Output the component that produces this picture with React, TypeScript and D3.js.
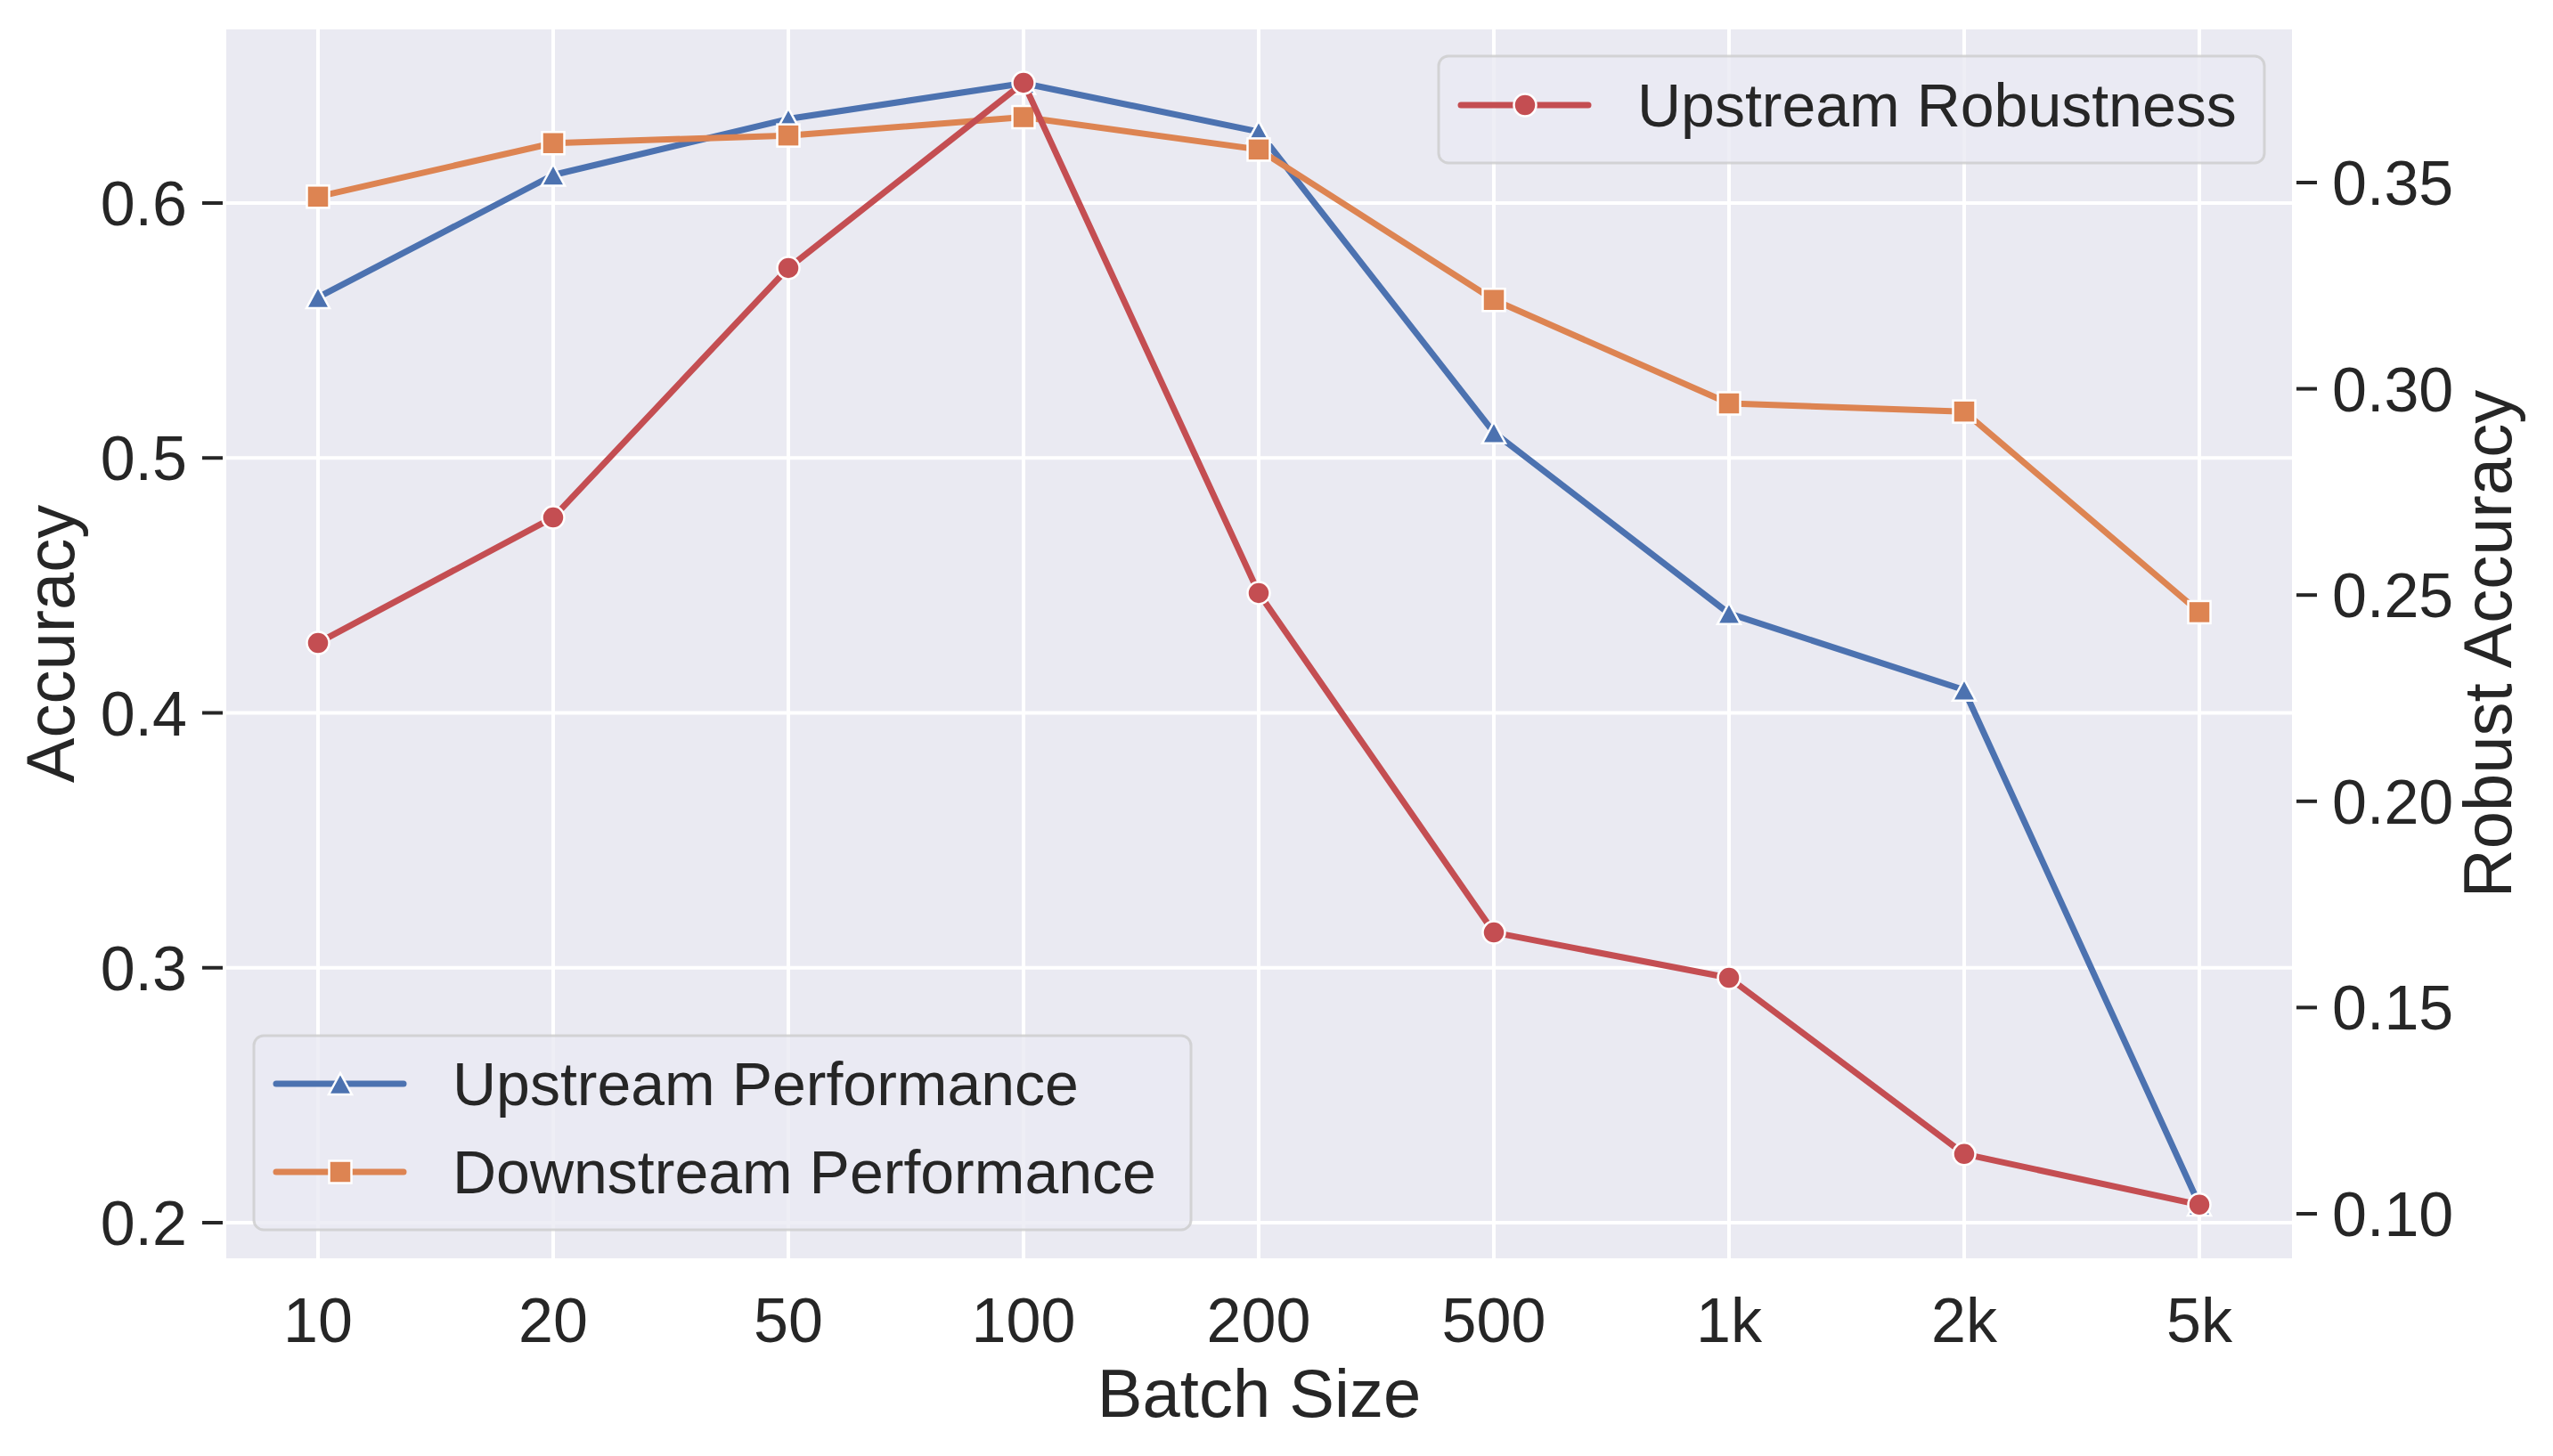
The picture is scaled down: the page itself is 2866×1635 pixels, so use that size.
import React from "react";
import * as d3 from "d3";

const categories = ["10", "20", "50", "100", "200", "500", "1k", "2k", "5k"];
const upstreamPerformance = [0.563, 0.611, 0.633, 0.647, 0.628, 0.510, 0.439, 0.409, 0.207];
const downstreamPerformance = [0.6025, 0.6235, 0.6265, 0.6337, 0.621, 0.562, 0.5214, 0.5182, 0.4395];
const upstreamRobustness = [0.2384, 0.2688, 0.3293, 0.3742, 0.2505, 0.1682, 0.1572, 0.1145, 0.1022];
const leftTicks = [0.2, 0.3, 0.4, 0.5, 0.6];
const rightTicks = [0.1, 0.15, 0.2, 0.25, 0.3, 0.35];

const W = 2866;
const H = 1635;
const PL = 254;
const PR = 2573;
const PT = 33;
const PB = 1413;
const FONT = "'Liberation Sans', Arial, Helvetica, sans-serif";
const TEXT = "#262626";
const BLUE = "#4C72B0";
const ORANGE = "#DD8452";
const RED = "#C44E52";
const BG = "#EAEAF2";

const x = d3.scalePoint<string>().domain(categories).range([357, 2469]);
const yL = d3.scaleLinear().domain([0.2, 0.6]).range([1373, 228]);
const yR = d3.scaleLinear().domain([0.1, 0.35]).range([1363, 205]);

type MarkerKind = "tri" | "sq" | "circ";

function Marker({ kind, cx, cy, color }: { kind: MarkerKind; cx: number; cy: number; color: string }) {
  if (kind === "circ") {
    return <circle cx={cx} cy={cy} r={12.5} fill={color} stroke="#fff" strokeWidth={2.5} />;
  }
  if (kind === "sq") {
    const s = 25;
    return <rect x={cx - s / 2} y={cy - s / 2} width={s} height={s} fill={color} stroke="#fff" strokeWidth={2.5} />;
  }
  const w = 26;
  const h = 24;
  const p = d3.path();
  p.moveTo(cx, cy - h / 2);
  p.lineTo(cx + w / 2, cy + h / 2);
  p.lineTo(cx - w / 2, cy + h / 2);
  p.closePath();
  return <path d={p.toString()} fill={color} stroke="#fff" strokeWidth={2.5} strokeLinejoin="miter" />;
}

function Series({ values, y, color, kind }: { values: number[]; y: d3.ScaleLinear<number, number>; color: string; kind: MarkerKind }) {
  const line = d3
    .line<number>()
    .x((_, i) => x(categories[i]) as number)
    .y((d) => y(d));
  return (
    <g>
      <path d={line(values) || ""} fill="none" stroke={color} strokeWidth={7} strokeLinejoin="round" strokeLinecap="round" />
      {values.map((v, i) => (
        <Marker key={i} kind={kind} cx={x(categories[i]) as number} cy={y(v)} color={color} />
      ))}
    </g>
  );
}

function Legend({
  left,
  top,
  width,
  height,
  entries,
}: {
  left: number;
  top: number;
  width: number;
  height: number;
  entries: { label: string; color: string; kind: MarkerKind; cy: number }[];
}) {
  return (
    <g>
      <rect x={left} y={top} width={width} height={height} rx={11} ry={11} fill={BG} fillOpacity={0.8} stroke="#cccccc" strokeOpacity={0.8} strokeWidth={3} />
      {entries.map((e, i) => (
        <g key={i}>
          <line x1={left + 25} x2={left + 168} y1={e.cy} y2={e.cy} stroke={e.color} strokeWidth={7} strokeLinecap="round" />
          <Marker kind={e.kind} cx={left + 97} cy={e.cy} color={e.color} />
          <text x={left + 223} y={e.cy + 24} fontSize={68} fill={TEXT} fontFamily={FONT}>
            {e.label}
          </text>
        </g>
      ))}
    </g>
  );
}

export default function App() {
  const midY = (PT + PB) / 2;
  const midX = (PL + PR) / 2;
  return (
    <svg width={W} height={H} viewBox={`0 0 ${W} ${H}`} style={{ position: "absolute", left: 0, top: 0, background: "#fff" }}>
      <rect x={0} y={0} width={W} height={H} fill="#fff" />
      <rect x={PL} y={PT} width={PR - PL} height={PB - PT} fill={BG} />
      {categories.map((c) => (
        <line key={"gx" + c} x1={x(c)} x2={x(c)} y1={PT} y2={PB} stroke="#fff" strokeWidth={4} />
      ))}
      {leftTicks.map((t) => (
        <line key={"gy" + t} x1={PL} x2={PR} y1={yL(t)} y2={yL(t)} stroke="#fff" strokeWidth={4} />
      ))}

      <Series values={upstreamPerformance} y={yL} color={BLUE} kind="tri" />
      <Series values={downstreamPerformance} y={yL} color={ORANGE} kind="sq" />

      <Legend
        left={285}
        top={1163}
        width={1052}
        height={218}
        entries={[
          { label: "Upstream Performance", color: BLUE, kind: "tri", cy: 1217 },
          { label: "Downstream Performance", color: ORANGE, kind: "sq", cy: 1316 },
        ]}
      />

      <Series values={upstreamRobustness} y={yR} color={RED} kind="circ" />

      <Legend
        left={1615}
        top={63}
        width={927}
        height={120}
        entries={[{ label: "Upstream Robustness", color: RED, kind: "circ", cy: 118 }]}
      />

      {leftTicks.map((t) => (
        <g key={"lt" + t}>
          <line x1={227} x2={250} y1={yL(t)} y2={yL(t)} stroke={TEXT} strokeWidth={4} />
          <text x={210} y={yL(t) + 25} textAnchor="end" fontSize={70} fill={TEXT} fontFamily={FONT}>
            {d3.format(".1f")(t)}
          </text>
        </g>
      ))}
      {rightTicks.map((t) => (
        <g key={"rt" + t}>
          <line x1={2578} x2={2601} y1={yR(t)} y2={yR(t)} stroke={TEXT} strokeWidth={4} />
          <text x={2618} y={yR(t) + 25} textAnchor="start" fontSize={70} fill={TEXT} fontFamily={FONT}>
            {d3.format(".2f")(t)}
          </text>
        </g>
      ))}
      {categories.map((c) => (
        <text key={"xt" + c} x={x(c)} y={1507} textAnchor="middle" fontSize={70} fill={TEXT} fontFamily={FONT}>
          {c}
        </text>
      ))}
      <text x={midX} y={1591} textAnchor="middle" fontSize={76} fill={TEXT} fontFamily={FONT}>
        Batch Size
      </text>
      <text transform={`translate(83,${midY}) rotate(-90)`} textAnchor="middle" fontSize={76} fill={TEXT} fontFamily={FONT}>
        Accuracy
      </text>
      <text transform={`translate(2819,${midY}) rotate(-90)`} textAnchor="middle" fontSize={76} fill={TEXT} fontFamily={FONT}>
        Robust Accuracy
      </text>
    </svg>
  );
}
